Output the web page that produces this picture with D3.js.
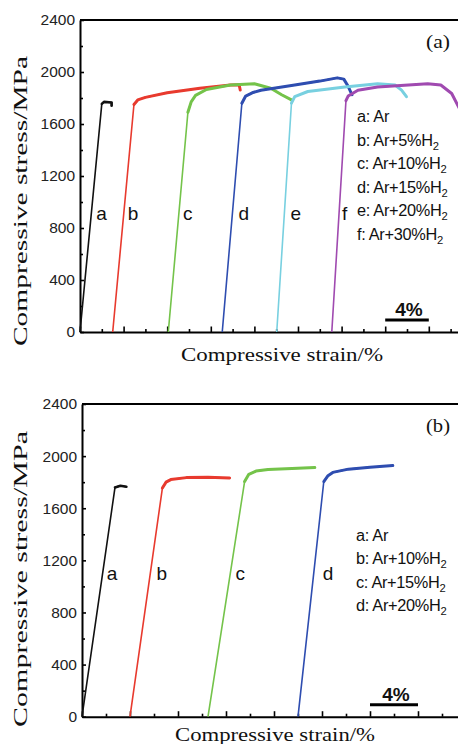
<!DOCTYPE html>
<html lang="en">
<head>
<meta charset="UTF-8">
<title>Compressive stress-strain curves</title>
<script src="https://cdnjs.cloudflare.com/ajax/libs/d3/7.8.5/d3.min.js"></script>
<style>
  body { margin: 0; background: #fff; }
  .tick text { font-family: "Liberation Sans", Arial, sans-serif; font-size: 15.5px; fill: #222; }
  .domain { stroke: #000; stroke-width: 2; }
  .tick line { stroke: #000; stroke-width: 1.6; }
  .title { font-family: "Liberation Serif", serif; font-size: 18px; fill: #111; }
  .curve-label { font-family: "Liberation Sans", Arial, sans-serif; font-size: 19px; fill: #111; }
  .legend { font-family: "Liberation Sans", Arial, sans-serif; font-size: 16px; fill: #111; letter-spacing: -0.3px; }
  .panel-tag { font-family: "Liberation Serif", serif; font-size: 18px; fill: #111; }
  .scale-bar { font-family: "Liberation Sans", Arial, sans-serif; font-size: 19px; font-weight: bold; fill: #111; }
</style>
</head>
<body>
<svg id="chart" width="458" height="744"></svg>
<script>
// shared axis values
const stressTicks = [0, 400, 800, 1200, 1600, 2000, 2400];
const stressMinor = [200, 600, 1000, 1400, 1800, 2200];

// panel (a): [strain %, stress MPa]
const a_Ar    = [[0,0],[2.0,1755],[2.2,1770],[2.9,1765],[2.9,1740]];
const a_H5    = [[3.0,0],[4.95,1750],[5.3,1785],[6,1805],[8,1840],[11,1875],[13.8,1900],[14.6,1902],[14.7,1862]];
const a_H10   = [[8.1,0],[9.9,1690],[10.2,1770],[10.6,1820],[11.6,1865],[13.8,1900],[16,1910],[17.5,1875],[18.5,1825],[19.4,1785]];
const a_H15   = [[13.05,0],[14.85,1760],[15.2,1815],[15.8,1840],[16.6,1860],[19.7,1900],[22,1930],[23.6,1955],[24.2,1945],[24.6,1890],[24.95,1825]];
const a_H20   = [[18.05,0],[19.4,1760],[19.7,1810],[20.9,1850],[24.3,1885],[27.3,1910],[28.9,1900],[29.5,1860],[29.95,1810]];
const a_H30   = [[23.1,0],[24.4,1780],[24.6,1815],[25.5,1860],[27.3,1885],[31.9,1910],[33.1,1900],[34.1,1835],[34.8,1720],[35.3,1640]];
const lettersA = ["a", "b", "c", "d", "e", "f"];
const gasA = ["Ar", "Ar+5%H2", "Ar+10%H2", "Ar+15%H2", "Ar+20%H2", "Ar+30%H2"];
const colorsA = ["#111111", "#e83a2e", "#74c34a", "#2e4db0", "#78d0e0", "#a04ab0"];
const strainTicksA = d3.range(0, 37, 2);

// panel (b)
const b_Ar    = [[0,0],[2.75,1760],[3.2,1772],[3.7,1765]];
const b_H10   = [[4.0,0],[6.7,1755],[7.0,1800],[7.4,1820],[8.7,1835],[10.5,1838],[12.3,1832]];
const b_H15   = [[10.5,0],[13.55,1805],[13.9,1860],[14.5,1885],[15.5,1897],[17.5,1905],[19.4,1912]];
const b_H20   = [[18.0,0],[20.15,1805],[20.5,1850],[20.9,1875],[22.2,1900],[24,1915],[25.9,1928]];
const lettersB = ["a", "b", "c", "d"];
const gasB = ["Ar", "Ar+10%H2", "Ar+15%H2", "Ar+20%H2"];
const colorsB = ["#111111", "#e83a2e", "#74c34a", "#2e4db0"];
const strainTicksB = d3.range(0, 32, 2);

const svg = d3.select("#chart");

function drawPanel(cfg) {
    const x = d3.scaleLinear().domain(cfg.xDomain).range([cfg.left, cfg.right]);
    const y = d3.scaleLinear().domain([0, 2400]).range([cfg.bottom, cfg.top]);
    const g = svg.append("g");

    // frame top line
    g.append("line")
        .attr("x1", cfg.left).attr("x2", 470)
        .attr("y1", cfg.top).attr("y2", cfg.top)
        .attr("stroke", "#000").attr("stroke-width", 2);

    // y axis
    g.append("g")
        .attr("transform", `translate(${cfg.left},0)`)
        .call(d3.axisLeft(y).tickValues(stressTicks).tickFormat(d3.format("d"))
            .tickSize(-4).tickSizeOuter(0).tickPadding(5));
    g.append("g")
        .attr("transform", `translate(${cfg.left},0)`)
        .call(d3.axisLeft(y).tickValues(stressMinor).tickSize(-3).tickFormat(""))
        .select(".domain").remove();

    // x axis, ticks pointing up, longer every 4 %
    const xa = g.append("g")
        .attr("transform", `translate(0,${cfg.bottom})`)
        .call(d3.axisBottom(x).tickValues(cfg.strainTicks).tickSize(-3).tickSizeOuter(0).tickFormat(""));
    xa.selectAll(".tick line").attr("y2", d => d % 4 === 0 ? -5.5 : -3);
    xa.select(".domain").attr("stroke-width", 2.4);

    const line = d3.line().x(d => x(d[0])).y(d => y(d[1]));

    cfg.curves.forEach((c, i) => {
        g.append("path")
            .attr("d", line(c))
            .attr("fill", "none")
            .attr("stroke", cfg.colors[i])
            .attr("stroke-width", 1.6)
            .attr("stroke-linejoin", "round");
        g.append("path")
            .attr("d", line(c.slice(1)))
            .attr("fill", "none")
            .attr("stroke", cfg.colors[i])
            .attr("stroke-width", i === 0 ? 2.6 : 3)
            .attr("stroke-linejoin", "round")
            .attr("stroke-linecap", "round");

        // curve letter beside the elastic part
        const s = cfg.labelStress;
        const e = c[0][0] + (c[1][0] - c[0][0]) * s / c[1][1];
        g.append("text")
            .attr("class", "curve-label")
            .attr("x", x(e) + cfg.labelGap[i])
            .attr("y", y(s) + 7)
            .text(cfg.letters[i]);
    });

    // legend
    const lg = g.append("g")
        .attr("transform", `translate(${cfg.legendX},${cfg.legendY}) scale(1.02,1)`);
    cfg.gases.forEach((gas, i) => {
        const t = lg.append("text")
            .attr("class", "legend")
            .attr("x", 0)
            .attr("y", i * cfg.legendStep);
        if (gas.endsWith("H2")) {
            t.append("tspan").text(`${cfg.letters[i]}: ${gas.slice(0, -1)}`);
            t.append("tspan").attr("font-size", 11).attr("dy", 4).text("2");
        } else {
            t.text(`${cfg.letters[i]}: ${gas}`);
        }
    });

    // panel tag
    g.append("text").attr("class", "panel-tag")
        .attr("x", 426).attr("y", cfg.top + 28)
        .attr("textLength", 24).attr("lengthAdjust", "spacingAndGlyphs")
        .text(cfg.tag);

    // 4 % scale bar
    const bx = x(cfg.barStart);
    g.append("line")
        .attr("x1", bx).attr("x2", x(cfg.barStart + 4))
        .attr("y1", cfg.bottom - 12).attr("y2", cfg.bottom - 12)
        .attr("stroke", "#000").attr("stroke-width", 3);
    g.append("text").attr("class", "scale-bar")
        .attr("x", (bx + x(cfg.barStart + 4)) / 2 + 2)
        .attr("y", cfg.bottom - 16)
        .attr("text-anchor", "middle")
        .text("4%");

    // axis titles
    g.append("text").attr("class", "title")
        .attr("transform", `translate(27,${cfg.yTitleY}) rotate(-90)`)
        .attr("text-anchor", "middle")
        .attr("textLength", cfg.yTitleLen).attr("lengthAdjust", "spacingAndGlyphs")
        .text("Compressive stress/MPa");
    g.append("text").attr("class", "title")
        .attr("x", cfg.xTitleX).attr("y", cfg.xTitleY)
        .attr("text-anchor", "middle")
        .attr("textLength", cfg.xTitleLen).attr("lengthAdjust", "spacingAndGlyphs")
        .text("Compressive strain/%");
}

drawPanel({
    left: 80, right: 472.4, top: 20, bottom: 332,
    xDomain: [0, 36], strainTicks: strainTicksA,
    curves: [a_Ar, a_H5, a_H10, a_H15, a_H20, a_H30],
    colors: colorsA, letters: lettersA, gases: gasA,
    labelStress: 915, labelGap: [5, 4, 4, 6, 6, 3],
    legendX: 357, legendY: 122, legendStep: 23.6,
    tag: "(a)", barStart: 28,
    yTitleY: 201, yTitleLen: 290,
    xTitleX: 282, xTitleY: 361, xTitleLen: 202
});

drawPanel({
    left: 82, right: 460, top: 404, bottom: 716.7,
    xDomain: [0, 31.5], strainTicks: strainTicksB,
    curves: [b_Ar, b_H10, b_H15, b_H20],
    colors: colorsB, letters: lettersB, gases: gasB,
    labelStress: 1105, labelGap: [4, 6, 5, 9],
    legendX: 356, legendY: 541, legendStep: 23.5,
    tag: "(b)", barStart: 24,
    yTitleY: 579, yTitleLen: 296,
    xTitleX: 275, xTitleY: 741, xTitleLen: 200
});
</script>
</body>
</html>
